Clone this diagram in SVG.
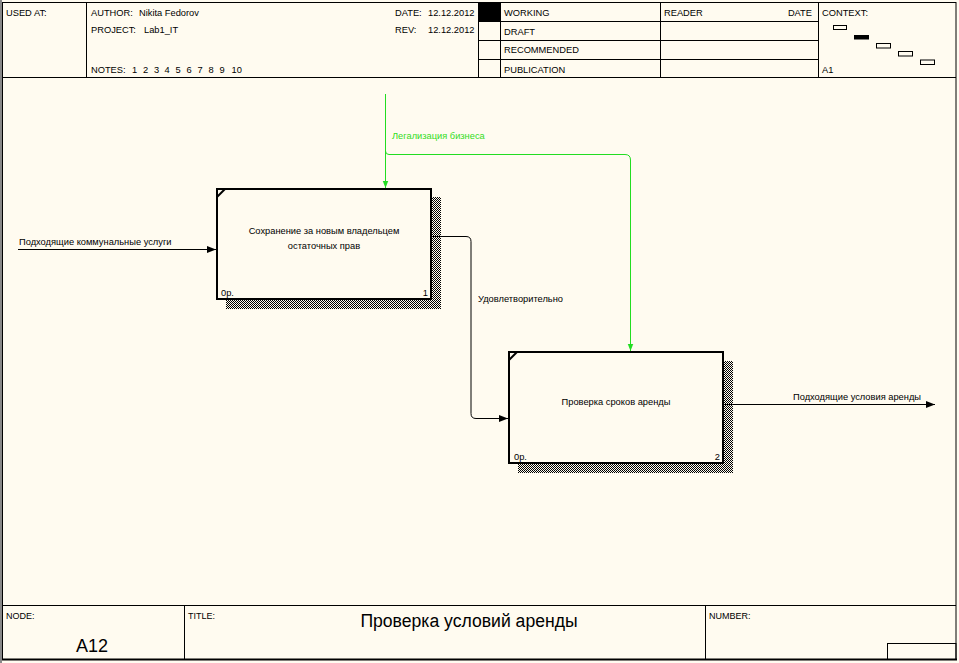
<svg xmlns="http://www.w3.org/2000/svg" width="959" height="663" viewBox="0 0 959 663">
<defs>
<style>
text{font-family:"Liberation Sans",Arial,sans-serif;font-size:9.3px;fill:#000}
.frame{fill:none;stroke:#000;stroke-width:1}
.box{fill:#fffbf0;stroke:#000;stroke-width:2}
.shadow{fill:url(#hatch)}
.conn{fill:none;stroke:#000;stroke-width:1}
.green{fill:none;stroke:#22dd22;stroke-width:1}
.gtext{fill:#33dd22}
.small{font-size:9px}
</style>
<pattern id="hatch" width="2" height="2" patternUnits="userSpaceOnUse">
<rect x="0" y="0" width="1" height="1" fill="#000"/>
<rect x="1" y="1" width="1" height="1" fill="#000"/>
</pattern>
<marker id="arr" markerWidth="9" markerHeight="7" refX="9" refY="3.5" orient="auto" markerUnits="userSpaceOnUse">
<path d="M0,0 L9,3.5 L0,7 Z" fill="#000"/>
</marker>
<marker id="garr" markerWidth="7" markerHeight="9" refX="9" refY="3.5" orient="auto" markerUnits="userSpaceOnUse" viewBox="0 0 9 7">
<path d="M0,0 L9,3.5 L0,7 Z" fill="#22dd22"/>
</marker>
</defs>
<rect x="0" y="0" width="959" height="663" fill="#fffbf0"/>
<g id="frame">
<rect x="2.5" y="2.5" width="953.5" height="657" class="frame"/>
<line x1="1" y1="0" x2="1" y2="663" stroke="#888" stroke-width="2"/>
<line x1="2" y1="77.5" x2="956" y2="77.5" stroke="#000"/>
<line x1="86.5" y1="2" x2="86.5" y2="77" stroke="#000"/>
<line x1="478.5" y1="2" x2="478.5" y2="77" stroke="#000"/>
<line x1="500.5" y1="2" x2="500.5" y2="77" stroke="#000"/>
<line x1="660.5" y1="2" x2="660.5" y2="77" stroke="#000"/>
<line x1="818.5" y1="2" x2="818.5" y2="77" stroke="#000"/>
<line x1="478" y1="21.5" x2="818" y2="21.5" stroke="#000"/>
<line x1="478" y1="40.5" x2="818" y2="40.5" stroke="#000"/>
<line x1="478" y1="59.5" x2="818" y2="59.5" stroke="#000"/>
<rect x="479" y="3" width="21" height="18" fill="#000"/>
<rect x="833.5" y="25.5" width="13" height="4" fill="none" stroke="#000"/>
<rect x="854" y="35" width="15" height="4.5" fill="#000"/>
<rect x="876.5" y="43.5" width="14" height="4.5" fill="none" stroke="#000"/>
<rect x="898.5" y="51.5" width="14" height="4.5" fill="none" stroke="#000"/>
<rect x="920.5" y="60" width="14" height="4.5" fill="none" stroke="#000"/>
<text x="6" y="16">USED AT:</text>
<text x="91" y="16">AUTHOR:</text>
<text x="139" y="16">Nikita Fedorov</text>
<text x="91" y="33">PROJECT:</text>
<text x="144" y="33">Lab1_IT</text>
<text x="91" y="73">NOTES:</text>
<text y="73"><tspan x="132">1</tspan><tspan x="143">2</tspan><tspan x="154">3</tspan><tspan x="164.5">4</tspan><tspan x="175.5">5</tspan><tspan x="186.5">6</tspan><tspan x="197.5">7</tspan><tspan x="208.5">8</tspan><tspan x="219.5">9</tspan><tspan x="231.5">10</tspan></text>
<text x="395" y="16">DATE:</text>
<text x="428" y="16">12.12.2012</text>
<text x="395" y="33">REV:</text>
<text x="428" y="33">12.12.2012</text>
<text x="504" y="16">WORKING</text>
<text x="504" y="35">DRAFT</text>
<text x="504" y="53">RECOMMENDED</text>
<text x="504" y="73">PUBLICATION</text>
<text x="664" y="16">READER</text>
<text x="812" y="16" text-anchor="end">DATE</text>
<text x="822" y="16">CONTEXT:</text>
<text x="822" y="73">A1</text>
<line x1="2" y1="605.5" x2="956" y2="605.5" stroke="#000"/>
<line x1="184.5" y1="605" x2="184.5" y2="659" stroke="#000"/>
<line x1="705.5" y1="605" x2="705.5" y2="659" stroke="#000"/>
<rect x="887.5" y="643.5" width="68.5" height="16" fill="none" stroke="#000"/>
<line x1="2" y1="659.5" x2="957" y2="659.5" stroke="#000" stroke-width="2"/>
<text x="6" y="619" class="small">NODE:</text>
<text x="76" y="652" style="font-size:18px">A12</text>
<text x="188" y="619" class="small">TITLE:</text>
<text x="469" y="627" text-anchor="middle" style="font-size:17.6px">Проверка условий аренды</text>
<text x="709" y="619" class="small">NUMBER:</text>
</g>
<g id="node1">
<rect x="226" y="197" width="215" height="112" class="shadow"/>
<rect x="217" y="189" width="214" height="110" class="box"/>
<line x1="217" y1="197" x2="225" y2="189" stroke="#000" stroke-width="2"/>
<text x="324" y="234" text-anchor="middle">Сохранение за новым владельцем</text>
<text x="324" y="249" text-anchor="middle">остаточных прав</text>
<text x="221" y="296">0р.</text>
<text x="428" y="296" text-anchor="end">1</text>
</g>
<g id="node2">
<rect x="518" y="361" width="215" height="112" class="shadow"/>
<rect x="509" y="352" width="214" height="111" class="box"/>
<line x1="509" y1="360" x2="517" y2="352" stroke="#000" stroke-width="2"/>
<text x="616" y="405" text-anchor="middle">Проверка сроков аренды</text>
<text x="514" y="460">0р.</text>
<text x="720" y="460" text-anchor="end">2</text>
</g>
<g id="connectors">
<path d="M18,249.5 H216" class="conn" marker-end="url(#arr)"/>
<text x="19" y="245">Подходящие коммунальные услуги</text>
<path d="M432,236.5 H466 Q471,236.5 471,241.5 V413.5 Q471,418.5 476,418.5 H508" class="conn" marker-end="url(#arr)"/>
<text x="478" y="302">Удовлетворительно</text>
<path d="M723,404.5 H935" class="conn" marker-end="url(#arr)"/>
<text x="793" y="400">Подходящие условия аренды</text>
<path d="M385.5,94 V188" class="green" marker-end="url(#garr)"/>
<path d="M385.5,151 Q385.5,154.5 389,154.5 H625 Q630.5,154.5 630.5,160 V351" class="green" marker-end="url(#garr)"/>
<text x="392" y="139" class="gtext">Легализация бизнеса</text>
</g>
</svg>
